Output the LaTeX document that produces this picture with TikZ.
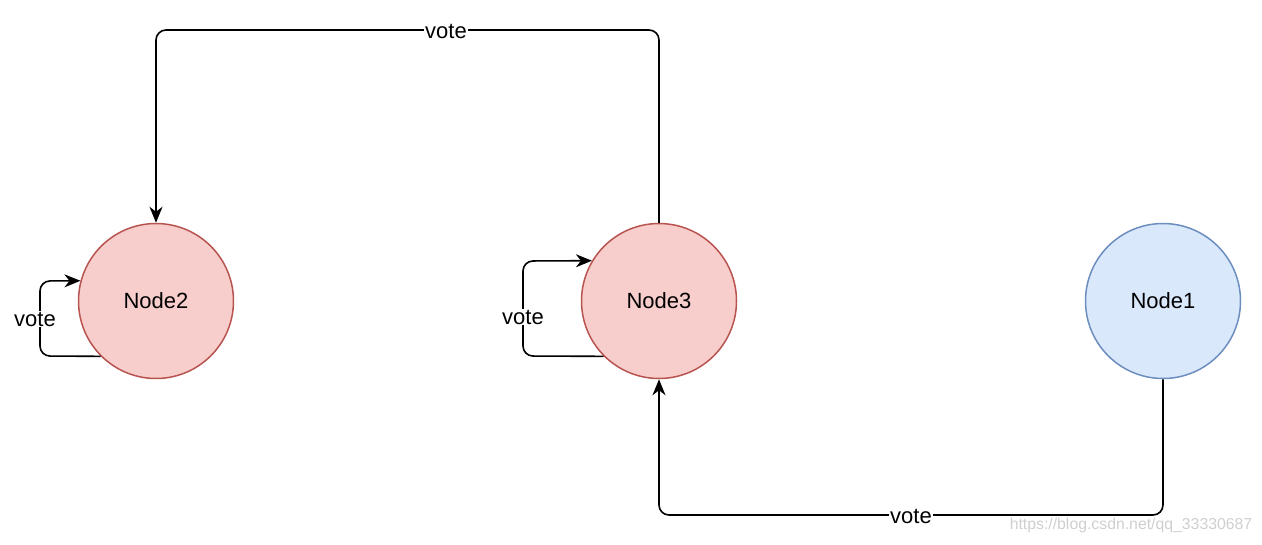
\documentclass[tikz,border=0pt]{standalone}
\usepackage{fontspec}
\setmainfont{Liberation Sans}
\usetikzlibrary{arrows.meta}
\definecolor{redfill}{HTML}{F8CECC}
\definecolor{redline}{HTML}{B85450}
\definecolor{bluefill}{HTML}{DAE8FC}
\definecolor{blueline}{HTML}{6C8EBF}
\definecolor{wm}{HTML}{CFCFCF}
\tikzset{
  rnode/.style={circle, draw=redline, fill=redfill, line width=1.5pt, minimum size=155pt, inner sep=0pt, font=\fontsize{22}{25}\selectfont},
  bnode/.style={circle, draw=blueline, fill=bluefill, line width=1.5pt, minimum size=155pt, inner sep=0pt, font=\fontsize{22}{25}\selectfont},
  conn/.style={line width=1.6pt, rounded corners=10pt, -{Stealth[length=16pt,width=13pt,inset=5pt]}},
  lbl/.style={fill=white, inner sep=1pt, font=\fontsize{22}{25}\selectfont},
}
\begin{document}
\begin{tikzpicture}[x=1pt,y=-1pt]
\useasboundingbox (0,0) rectangle (1262,544);
\node[rnode] (n2) at (156,301) {Node2};
\node[rnode] (n3) at (659,301) {Node3};
\node[bnode] (n1) at (1163,301) {Node1};
\coordinate (t1) at (659,30);
\coordinate (t2) at (156,30);
\coordinate (b1) at (1163,515);
\coordinate (b2) at (659,515);
% top edge
\draw[conn] (n3.north) -- (t1) -- (t2) -- (n2.north);
\node[lbl] (l1) at (446,31) {vote};
% bottom edge
\draw[conn] (n1.south) -- (b1) -- (b2) -- (n3.south);
\node[lbl] (l2) at (911,516) {vote};
% self loops
\coordinate (s2a) at (40,356);
\coordinate (s2b) at (40,281);
\draw[conn] (n2.225) -- (s2a) -- (s2b) -- (n2.165);
\node[lbl] (l3) at (35,319) {vote};
\coordinate (s3a) at (523,356);
\coordinate (s3b) at (523,261);
\draw[conn] (n3.225) -- (s3a) -- (s3b) -- (n3.149);
\node[lbl] (l4) at (523,317) {vote};
\node[text=wm, font=\fontsize{15.8}{18}\selectfont, inner sep=0pt] (wm) at (1131,525) {https://blog.csdn.net/qq\_33330687};
\end{tikzpicture}
\end{document}
